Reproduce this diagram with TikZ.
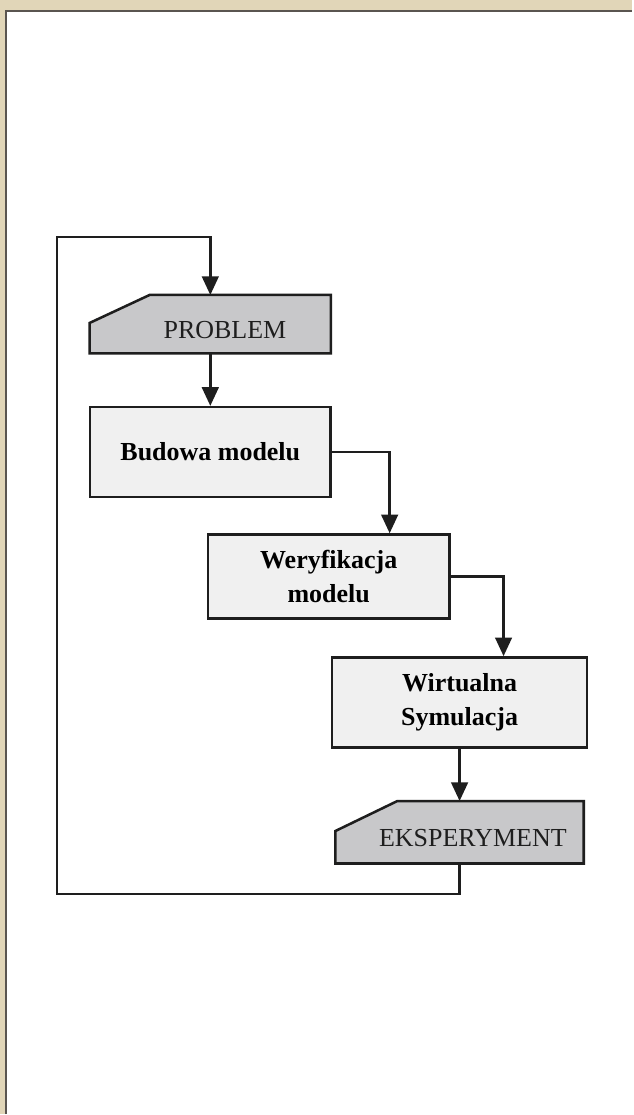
\documentclass[tikz,border=0pt]{standalone}
\usepackage{fontspec}
\setmainfont{Liberation Serif}
\usepackage{tikz}
\usetikzlibrary{arrows.meta, positioning, calc}
\definecolor{framebeige}{RGB}{225,214,184}
\definecolor{framegray}{RGB}{90,85,80}
\definecolor{boxgray}{RGB}{240,240,240}
\definecolor{iogray}{RGB}{200,200,202}
\definecolor{linegray}{RGB}{30,30,30}

\begin{document}
\begin{tikzpicture}[
        x=0.75pt, y=-0.75pt,
        font=\fontsize{19.5}{25}\selectfont,
        process/.style={rectangle, draw=linegray, line width=1.9pt, fill=boxgray, align=center, inner sep=0pt, font=\fontsize{19.5}{25}\selectfont\bfseries},
        iobox/.style 2 args={rectangle, inner sep=0pt, append after command={\pgfextra{\filldraw[fill=iogray, draw=linegray, line width=1.9pt, line join=miter]
            ($(\tikzlastnode.north west)+(#1,0pt)$) -- (\tikzlastnode.north east) -- (\tikzlastnode.south east)
            -- (\tikzlastnode.south west) -- ($(\tikzlastnode.north west)+(0pt,-#2)$) -- cycle;}}},
        arrow/.style={-{Triangle[length=14pt,width=12.5pt]}, line width=1.9pt, draw=linegray}
    ]

    % ramka
    \fill[framebeige] (0,0) rectangle (633,1115);
    \fill[white] (6,11) rectangle (633,1115);
    \draw[framegray, line width=1.5pt] (6,1115) -- (6,11) -- (633,11);

    % bloki
    \node[iobox={45pt}{21pt}, minimum width=180.75pt, minimum height=43.5pt, label={[xshift=11pt, yshift=-4pt, text=linegray]center:PROBLEM}] (problem) at (210.5,324.5) {};
    \node[process, minimum width=180.75pt, minimum height=67.5pt] (budowa) at (210.5,452.5) {Budowa modelu};
    \node[process, minimum width=181.5pt, minimum height=63pt] (weryfikacja) at (329,577) {Weryfikacja\\modelu};
    \node[process, minimum width=191.25pt, minimum height=67.5pt] (symulacja) at (460,703) {Wirtualna\\Symulacja};
    \node[iobox={46.5pt}{22.5pt}, minimum width=186pt, minimum height=46.5pt, label={[xshift=10pt, yshift=-4pt, text=linegray]center:EKSPERYMENT}] (eksperyment) at (460,833) {};

    % petla zwrotna
    \coordinate (loopbot) at (57,895);
    \coordinate (looptop) at (57,237);

    % polaczenia
    \draw[arrow] (problem) -- (budowa);
    \draw[arrow] (budowa.east) -| ($(weryfikacja.north)+(61,0)$);
    \draw[arrow] (weryfikacja.east) -| ($(symulacja.north)+(44,0)$);
    \draw[arrow] (symulacja) -- (eksperyment);
    \draw[arrow] (eksperyment.south) |- (loopbot) -- (looptop) -| (problem.north);

\end{tikzpicture}
\end{document}
